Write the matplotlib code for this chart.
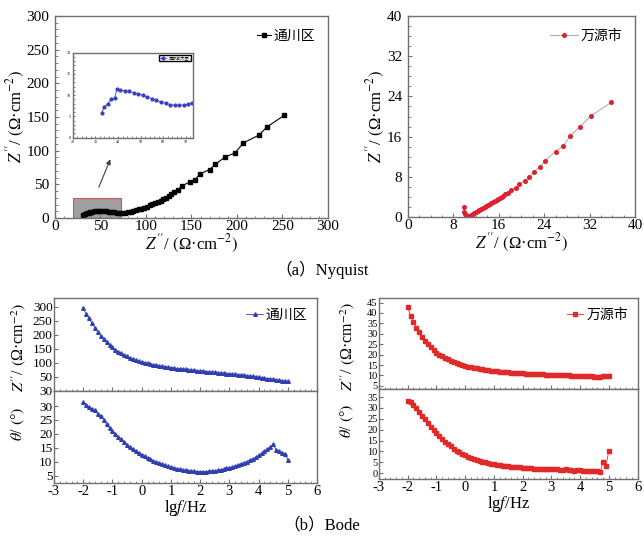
import matplotlib
matplotlib.use('Agg')
import matplotlib.pyplot as plt
import numpy as np
from matplotlib.patches import Rectangle

plt.rcParams['font.family'] = ['Liberation Serif', 'Noto Sans CJK SC']
plt.rcParams['mathtext.fontset'] = 'stix'
plt.rcParams['axes.unicode_minus'] = False

# NYQUIST DATA
nyq_tc_x = [31, 33, 35, 37, 39, 41, 44, 47, 50, 53, 56, 59, 62, 65, 68, 71, 74, 77, 80, 83, 86, 89, 92, 95, 98,
            101, 104, 107, 110, 113, 116, 119, 122, 125, 128, 131, 135, 140, 148, 154, 159, 170, 176, 187, 198,
            207, 224, 233, 252]
nyq_tc_y = [4, 5.5, 7, 8, 9, 9.5, 10, 10.5, 10.5, 10.3, 10, 9.5, 9, 8.5, 8.2, 8, 8, 8.2, 8.7, 9.5, 10.5, 11.6,
            12.8, 14, 15.4, 17, 18.6, 20.3, 22, 24, 26, 28, 30, 32.5, 35, 38, 42, 48, 53.5, 56.5, 65.4, 72, 79.5,
            90.8, 96.7, 111.6, 123, 135.3, 152.6]

zoom_x = [32.8, 34, 35.5, 37, 38.5, 39.5, 41, 43, 45, 47, 49, 51, 53, 55, 57, 59, 61, 63, 65, 67, 69, 71, 72.5]
zoom_y = [5.8, 7.3, 8, 9, 9.3, 11.4, 11.2, 11.1, 10.9, 10.6, 10.3, 10, 9.6, 9.2, 8.8, 8.4, 8.1, 7.8, 7.6, 7.6,
          7.7, 7.9, 8.1]

nyq_wy_x = [9.9, 9.9, 10.0, 10.2, 10.5, 10.8, 11.1, 11.4, 11.7, 12.0, 12.3, 12.6, 12.9, 13.2, 13.5, 13.8, 14.1,
            14.4, 14.7, 15.0, 15.3, 15.6, 15.9, 16.2, 16.5, 16.8, 17.1, 17.6, 18.2, 19.0, 19.6, 20.6, 21.3, 22.2,
            23.3, 24.1, 26.0, 27.3, 28.6, 30.3, 32.2, 35.8]
nyq_wy_y = [2.0, 1.0, 0.5, 0.2, 0.1, 0.2, 0.4, 0.6, 0.8, 1.0, 1.2, 1.4, 1.6, 1.8, 2.0, 2.2, 2.4, 2.6, 2.8, 3.0,
            3.2, 3.4, 3.6, 3.8, 4.0, 4.2, 4.5, 4.7, 5.4, 5.8, 6.6, 7.1, 7.9, 9.0, 10.0, 11.2, 13.0, 14.1, 16.1,
            18.0, 20.1, 22.8]

# BODE DATA (lgf from -2 to 5, step 0.1)
lgf = np.round(np.arange(-2.0, 5.01, 0.1), 1)
bode_tc_z = [295, 275, 258, 241, 225, 210, 196, 184, 173, 163, 155, 147, 140, 134, 128, 123, 118, 114, 110, 107,
             104, 101, 98, 96, 94, 92, 90, 88, 86, 85, 83, 82, 80, 79, 78, 77, 75, 74, 73, 72,
             71, 70, 69, 68, 67, 66, 65, 64, 63, 62, 61, 60, 59, 58, 57, 56, 54, 53, 52, 50,
             49, 47, 46, 44, 43, 41, 40, 38, 37, 35, 34]
bode_tc_t = [31.5, 30.5, 29.5, 29, 28.5, 27, 26.5, 25, 23.5, 22, 21, 20, 19, 18, 17, 16, 15.3, 14.6, 14, 13.3,
             12.6, 12, 11.4, 10.9, 10.4, 9.9, 9.5, 9.1, 8.7, 8.4, 8.1, 7.8, 7.5, 7.3, 7.1, 6.9, 6.8, 6.7, 6.6, 6.5,
             6.5, 6.5, 6.5, 6.6, 6.7, 6.8, 7.0, 7.2, 7.4, 7.6, 7.9, 8.2, 8.5, 8.9, 9.3, 9.7, 10.1, 10.6, 11.1, 11.6,
             12.3, 13.0, 13.7, 14.5, 15.3, 16.3, 14.2, 14.0, 13.3, 12.8, 10.8]
bode_wy_z = [43, 38.5, 35.5, 33, 30.8, 28.5, 26.6, 25, 23.5, 22.2, 21, 20, 19.2, 18.4, 17.7, 17.1, 16.5, 16, 15.5,
             15.1, 14.7, 14.3, 14, 13.7, 13.4, 13.1, 12.9, 12.7, 12.5, 12.3, 12.1, 12, 11.8, 11.7, 11.6, 11.5, 11.4,
             11.3, 11.2, 11.1, 11, 10.9, 10.8, 10.7, 10.7, 10.6, 10.5, 10.5, 10.4, 10.3, 10.3, 10.2, 10.2, 10.1,
             10.1, 10, 10, 9.9, 9.9, 9.8, 9.8, 9.7, 9.7, 9.6, 9.6, 9.5, 9.5, 9.4, 9.8, 9.6, 9.8]
bode_wy_t = [33.2, 32.6, 31.5, 30.0, 28.2, 26.5, 24.8, 23, 21.3, 19.8, 18.3, 16.9, 15.6, 14.4, 13.3, 12.3, 11.3,
             10.4, 9.6, 8.9, 8.2, 7.6, 7.0, 6.5, 6.0, 5.6, 5.2, 4.9, 4.6, 4.3, 4.0, 3.8, 3.6, 3.4, 3.2, 3.1, 2.9,
             2.8, 2.7, 2.6, 2.5, 2.4, 2.3, 2.2, 2.1, 2.1, 2.0, 2.0, 1.9, 1.8, 1.8, 1.7, 1.7, 1.6, 1.4, 1.7, 1.5,
             1.3, 1.2, 1.4, 1.5, 1.0, 1.1, 1.0, 0.9, 0.8, 0.8, 0.7, 5.2, 3.5, 10.3]

FRAME = '#707070'
CJK = ['Noto Sans CJK SC']
ZLAB = r"$Z''$/ $($Ω·cm$^{-2}$$)$"
TLAB = r"$\theta$/ $($°$)$"


def style(ax, size=9):
    for s in ax.spines.values():
        s.set_color(FRAME)
        s.set_linewidth(1.0)
    ax.tick_params(which='both', direction='in', labelsize=size, color=FRAME, pad=1.5)
    ax.tick_params(which='major', length=3)
    ax.tick_params(which='minor', length=1.8)
    ax.minorticks_on()


fig = plt.figure(figsize=(6.44, 5.37), dpi=100)

# (a) NYQUIST - 通川区
ax1 = fig.add_axes([0.0854, 0.594, 0.4239, 0.3762])
ax1.plot(nyq_tc_x, nyq_tc_y, '-s', color='black', lw=0.8, ms=3.2, label='通川区')
ax1.set_xlim(0, 300)
ax1.set_ylim(0, 300)
ax1.set_xticks(range(0, 301, 50))
ax1.set_yticks(range(0, 301, 50))
style(ax1, 11)
ax1.tick_params(axis='y', pad=4)
ax1.add_patch(Rectangle((20, 0), 52, 30, facecolor='#a0a0a0', edgecolor='#e05050', lw=0.8, zorder=1))
ax1.annotate('', xy=(62, 91), xytext=(47, 42),
             arrowprops=dict(arrowstyle='-|>', color='#404040', lw=0.8, mutation_scale=7))
ax1.legend(loc='upper right', frameon=False, prop={'family': CJK, 'size': 10},
           handlelength=1.0, handletextpad=0.2, borderaxespad=0.5)
ax1.set_xlabel(ZLAB, fontsize=12, labelpad=0)
ax1.set_ylabel(ZLAB, fontsize=12, labelpad=0)

# inset
axi = fig.add_axes([0.1129, 0.7436, 0.1863, 0.1583])
axi.plot(zoom_x, zoom_y, '-o', color='#3a3fc0', lw=0.6, ms=2.0, label='局部放大图')
axi.set_xlim(20, 73)
axi.set_ylim(0, 20)
axi.set_xticks(range(20, 71, 10))
axi.set_yticks(range(0, 21, 5))
style(axi, 3)
axi.tick_params(which='both', length=1.2)
axi.legend(loc='upper right', prop={'family': CJK, 'size': 3}, handlelength=1.5,
           borderpad=0.2, fancybox=False, edgecolor='black', framealpha=1)

# (a) NYQUIST - 万源市
ax2 = fig.add_axes([0.6335, 0.5959, 0.3525, 0.3743])
ax2.plot(nyq_wy_x, nyq_wy_y, '-o', color='#b0b0b0', lw=0.8, mfc='#e02030', mec='#e02030', ms=2.6,
         label='万源市')
ax2.set_xlim(0, 40)
ax2.set_ylim(0, 40)
ax2.set_xticks(range(0, 41, 8))
ax2.set_yticks(range(0, 41, 8))
style(ax2, 11)
ax2.tick_params(axis='y', pad=4)
ax2.legend(loc='upper right', frameon=False, prop={'family': CJK, 'size': 10},
           handlelength=2.0, handletextpad=0.2, borderaxespad=0.5)
ax2.set_xlabel(ZLAB, fontsize=12, labelpad=0)
ax2.set_ylabel(ZLAB, fontsize=12, labelpad=0)

fig.text(0.5, 0.497, '（a）Nyquist', ha='center', va='center', fontsize=12)


# (b) BODE
def bode(left, width, top_y, mid_y, bot_y, z, t, color, marker, ms, label, zlim, zticks, zlabels,
         tlim, tticks, lab_x, ysize):
    au = fig.add_axes([left, mid_y, width, top_y - mid_y])
    al = fig.add_axes([left, bot_y, width, mid_y - bot_y], sharex=au)
    au.plot(lgf, z, '-' + marker, color=color, lw=0.6, ms=ms, label=label)
    al.plot(lgf, t, '-' + marker, color=color, lw=0.6, ms=ms)
    au.set_xlim(-3, 6)
    au.set_ylim(*zlim)
    au.set_yticks(zticks)
    if zlabels is not None:
        au.set_yticklabels(zlabels)
    al.set_ylim(*tlim)
    al.set_yticks(tticks)
    al.set_xticks(range(-3, 7))
    for a in (au, al):
        style(a, 10.5)
        a.tick_params(axis='y', which='major', pad=1, labelsize=ysize)
    au.tick_params(labelbottom=False)
    au.yaxis.set_minor_locator(plt.NullLocator())
    al.yaxis.set_minor_locator(plt.NullLocator())
    au.legend(loc='upper right', frameon=False, prop={'family': CJK, 'size': 10},
              handlelength=1.2, handletextpad=0.2, borderaxespad=0.3)
    al.set_xlabel(r'lg$f$/Hz', fontsize=12, labelpad=0)
    fig.text(lab_x, (top_y + mid_y) / 2 - 0.005, ZLAB, rotation=90, ha='center', va='center', fontsize=11.5)
    fig.text(lab_x, (mid_y + bot_y) / 2 + 0.025, TLAB, rotation=90, ha='center', va='center',
             fontsize=11.5)
    return au, al


bode(0.0839, 0.4084, 0.4451, 0.2719, 0.1006, bode_tc_z, bode_tc_t, '#3040b0', '^', 2.6, '通川区',
     (0, 331), [0, 50, 100, 150, 200, 250, 300], ['30', '50', '100', '150', '200', '250', '300'],
     (2.4, 35.4), [5, 10, 15, 20, 25, 30], 0.028, 9.5)
bode(0.5885, 0.4015, 0.4451, 0.2756, 0.108, bode_wy_z, bode_wy_t, '#e02a2a', 's', 3.0, '万源市',
     (3.5, 47.2), [5, 10, 15, 20, 25, 30, 35, 40, 45], None,
     (-2.7, 38.7), [0, 5, 10, 15, 20, 25, 30, 35], 0.54, 7.5)

fig.text(0.5, 0.022, '（b）Bode', ha='center', va='center', fontsize=12)

fig.savefig('out.png', dpi=100)
